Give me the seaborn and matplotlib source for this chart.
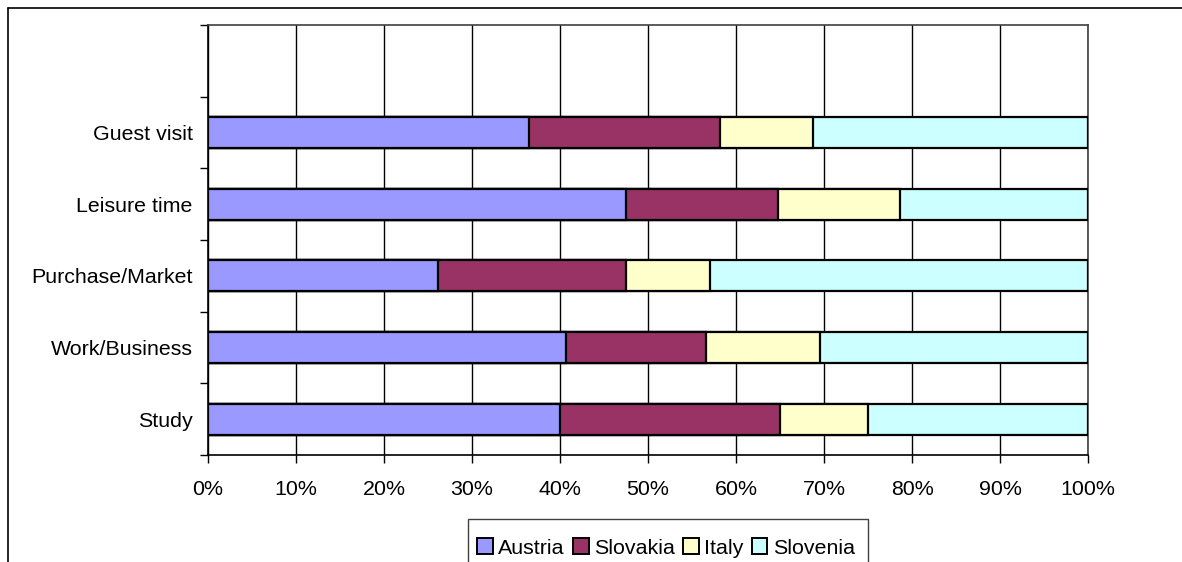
import numpy as np
import pandas as pd
import matplotlib
matplotlib.use("Agg")
import matplotlib.pyplot as plt
from matplotlib.patches import Patch, Rectangle
from matplotlib.lines import Line2D
import seaborn as sns

# === Data (percent shares) ===
purposes = ["Guest visit", "Leisure time", "Purchase/Market", "Work/Business", "Study"]
countries = ["Austria", "Slovakia", "Italy", "Slovenia"]
austria = [36.5, 47.5, 26.1, 40.7, 40.0]
slovakia = [21.7, 17.3, 21.4, 15.9, 25.0]
italy = [10.6, 13.8, 9.5, 12.9, 10.0]
slovenia = [31.2, 21.4, 43.0, 30.5, 25.0]
colors = ["#9999FF", "#993366", "#FFFFCC", "#CCFFFF"]

df = pd.DataFrame({"purpose": purposes, "Austria": austria, "Slovakia": slovakia,
                   "Italy": italy, "Slovenia": slovenia})
# cumulative sums for stacking (draw the longest first, shorter on top)
cum = df[countries].cumsum(axis=1)
cum["purpose"] = df["purpose"]

sns.set_style("white")
plt.rcParams["font.family"] = ["Liberation Sans", "DejaVu Sans"]
plt.rcParams["text.color"] = "black"
plt.rcParams["xtick.color"] = "black"
plt.rcParams["ytick.color"] = "black"

FS = 15.4
W, H = 1182, 562
fig = plt.figure(figsize=(W / 100, H / 100), dpi=100)
ax = fig.add_axes([208 / W, (H - 455) / H, 880 / W, 430 / H])

for country, color in reversed(list(zip(countries, colors))):
    sns.barplot(data=cum, x=country, y="purpose", order=purposes, orient="h",
                color=color, edgecolor="black", linewidth=1.6, width=0.43,
                saturation=1, ax=ax, zorder=3)

ax.set_xlim(0, 100)
ax.set_ylim(len(purposes) - 0.5, -1.5)
ax.set_xticks(np.arange(0, 101, 10))
ax.set_xticklabels([f"{v}%" for v in range(0, 101, 10)], fontsize=FS)
ax.set_xlabel("")
ax.set_ylabel("")
ax.set_yticks(range(len(purposes)))
ax.set_yticklabels(purposes, fontsize=FS)
ax.set_yticks(np.arange(-1.5, len(purposes), 1.0), minor=True)
ax.tick_params(axis="y", which="major", length=0, pad=11)
ax.tick_params(axis="y", which="minor", length=6, width=1, color="black", direction="out", left=True)
ax.tick_params(axis="x", length=6, width=1, color="black", direction="out", bottom=True, pad=12)
ax.grid(axis="x", color="black", linewidth=1, zorder=0)
ax.set_axisbelow(True)
for side, sp in ax.spines.items():
    sp.set_visible(True)
    sp.set_linewidth(1.2)
    sp.set_color("black" if side in ("left", "bottom") else "#404040")

# legend: entries without frame, box drawn separately (runs off the bottom edge)
handles = [Patch(facecolor=c, edgecolor="black", linewidth=1.4, label=n)
           for n, c in zip(countries, colors)]
fig.legend(handles=handles, loc="center", bbox_to_anchor=(666 / W, (H - 548) / H),
           ncol=4, fontsize=FS, frameon=False,
           handlelength=0.72, handleheight=0.72, handletextpad=0.25,
           columnspacing=0.4, borderpad=0.0)
fig.add_artist(Rectangle((468 / W, -0.05), 400 / W, (H - 519) / H + 0.05,
                         transform=fig.transFigure, facecolor="none",
                         edgecolor="#404040", linewidth=1))

# outer chart border (left and top visible)
fig.add_artist(Line2D([8 / W, 8 / W], [0, 1 - 8 / H], color="black", linewidth=1.2))
fig.add_artist(Line2D([8 / W, 1], [1 - 8 / H, 1 - 8 / H], color="black", linewidth=1.2))

fig.savefig("out.png", dpi=100)
